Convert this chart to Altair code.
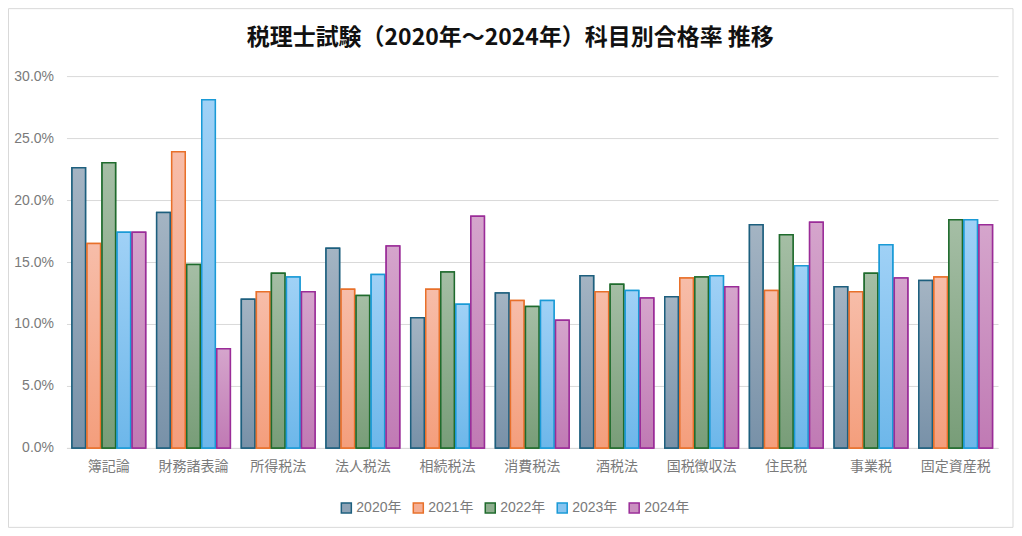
import altair as alt
import pandas as pd

# ---- data ----
years = ["2020年", "2021年", "2022年", "2023年", "2024年"]
subjects = ["簿記論", "財務諸表論", "所得税法", "法人税法", "相続税法", "消費税法",
            "酒税法", "国税徴収法", "住民税", "事業税", "固定資産税"]
r2020 = [22.6, 19.0, 12.0, 16.1, 10.5, 12.5, 13.9, 12.2, 18.0, 13.0, 13.5]
r2021 = [16.5, 23.9, 12.6, 12.8, 12.8, 11.9, 12.6, 13.7, 12.7, 12.6, 13.8]
r2022 = [23.0, 14.8, 14.1, 12.3, 14.2, 11.4, 13.2, 13.8, 17.2, 14.1, 18.4]
r2023 = [17.4, 28.1, 13.8, 14.0, 11.6, 11.9, 12.7, 13.9, 14.7, 16.4, 18.4]
r2024 = [17.4, 8.0, 12.6, 16.3, 18.7, 10.3, 12.1, 13.0, 18.2, 13.7, 18.0]
series = [r2020, r2021, r2022, r2023, r2024]
title_text = "税理士試験（2020年～2024年）科目別合格率 推移"

# ---- styles ----
stroke_colors = ["#1d5f7e", "#e8702a", "#1f6b2d", "#1a9ad6", "#9a2c98"]
top_colors = ["#a4b4c3", "#f7bda9", "#a5bea5", "#a0d1f6", "#d5a5cc"]
bot_colors = ["#7891a8", "#f49e7c", "#789d78", "#6db7ea", "#c07ab4"]
mid_colors = ["#8ea3b6", "#f5ae93", "#8fae8f", "#87c4f0", "#ca90c0"]

rows = []
for y, vals in zip(years, series):
    for s, v in zip(subjects, vals):
        rows.append({"subject": s, "year": y, "rate": v / 100.0})
df = pd.DataFrame(rows)

W, H = 932, 372
LABEL_FONT = "Liberation Sans, Noto Sans CJK JP, sans-serif"
LABEL_COLOR = "#7a7a7a"

x_enc = alt.X("subject:N", sort=subjects,
              scale=alt.Scale(domain=subjects, paddingInner=0.13, paddingOuter=0.065),
              axis=alt.Axis(title=None, labelAngle=0, ticks=False, domainColor="#d9d9d9",
                            labelPadding=12, labelFontSize=14, labelColor=LABEL_COLOR,
                            labelFont=LABEL_FONT, grid=False))
xo_enc = alt.XOffset("year:N", scale=alt.Scale(domain=years, paddingInner=0.1))
y_enc = alt.Y("rate:Q", scale=alt.Scale(domain=[0, 0.3], nice=False),
              axis=alt.Axis(title=None, format=".1%", values=[0, 0.05, 0.1, 0.15, 0.2, 0.25, 0.3],
                            domain=False, ticks=False, gridColor="#d9d9d9", labelPadding=13,
                            labelFontSize=14, labelColor=LABEL_COLOR, labelFont=LABEL_FONT))

base = alt.Chart(df)

# legend layer (drawn underneath, covered by gradient bars)
legend_layer = base.mark_bar(strokeWidth=1.5).encode(
    x=x_enc, xOffset=xo_enc, y=y_enc,
    fill=alt.Fill("year:N", scale=alt.Scale(domain=years, range=mid_colors),
                  legend=alt.Legend(title=None, orient="none", direction="horizontal",
                                    legendX=273, legendY=425, columns=5, columnPadding=8,
                                    symbolType="square", symbolSize=100, symbolStrokeWidth=1.5,
                                    labelFontSize=14, labelColor=LABEL_COLOR, labelFont=LABEL_FONT,
                                    labelOffset=3, padding=0)),
    stroke=alt.Stroke("year:N", scale=alt.Scale(domain=years, range=stroke_colors)),
)

layers = [legend_layer]
for i, y in enumerate(years):
    grad = alt.LinearGradient(
        gradient="linear", x1=0, x2=0, y1=0, y2=1,
        stops=[alt.GradientStop(color=top_colors[i], offset=0),
               alt.GradientStop(color=bot_colors[i], offset=1)])
    layers.append(
        base.transform_filter(alt.datum.year == y)
        .mark_bar(color=grad, stroke=stroke_colors[i], strokeWidth=1.5)
        .encode(x=x_enc, xOffset=xo_enc, y=y_enc)
    )

title_layer = alt.Chart(alt.Data(values=[{"t": title_text}])).mark_text(
    font="Noto Sans CJK JP", fontSize=23, fontWeight="bold", color="#111111",
    align="center", baseline="middle"
).encode(x=alt.value(444), y=alt.value(-38), text="t:N")

border_layer = alt.Chart(alt.Data(values=[{"b": 1}])).mark_rect(
    fill=None, stroke="#d9d9d9", strokeWidth=1
).encode(x=alt.value(-58), x2=alt.value(947), y=alt.value(-67.5), y2=alt.value(451.5))

chart = alt.layer(*layers, title_layer, border_layer).properties(
    width=W, height=H,
    autosize=alt.AutoSizeParams(type="none"),
    padding={"left": 58.5, "top": 68, "right": 16, "bottom": 80},
    background="white",
).configure_view(stroke=None)

chart.save("out.html", embed_options={"renderer": "svg", "actions": False})
